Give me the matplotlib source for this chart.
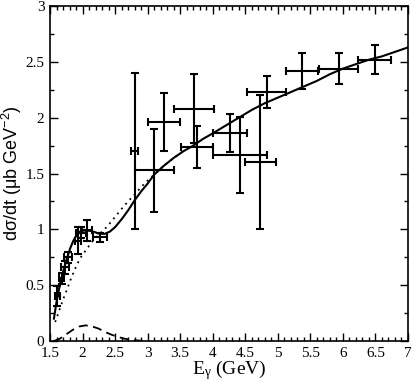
import matplotlib.pyplot as plt
import numpy as np
from matplotlib.ticker import MultipleLocator

# data points: E_gamma, dsigma/dt, errors
e_pts = [1.61, 1.68, 1.73, 1.78, 1.93, 1.98, 2.07, 2.27,
         2.80, 3.10, 3.25, 3.71, 3.76, 4.26, 4.42, 4.73, 4.83,
         5.37, 5.94, 6.49]
ds_pts = [0.40, 0.56, 0.66, 0.75, 0.90, 0.97, 0.99, 0.93,
          1.70, 1.53, 1.96, 2.08, 1.74, 1.86, 1.67, 1.60, 2.23,
          2.42, 2.44, 2.52]
xerr = [0.04, 0.04, 0.06, 0.06, 0.05, 0.08, 0.08, 0.11,
        0.05, 0.30, 0.25, 0.31, 0.25, 0.26, 0.41, 0.24, 0.30,
        0.25, 0.30, 0.25]
yerr = [0.09, 0.05, 0.06, 0.05, 0.12, 0.05, 0.09, 0.04,
        0.70, 0.37, 0.26, 0.31, 0.19, 0.17, 0.34, 0.60, 0.14,
        0.16, 0.14, 0.13]

# full model (solid)
e_full = [1.56, 1.60, 1.65, 1.70, 1.76, 1.81, 1.86, 1.91, 1.96, 2.02, 2.07,
          2.13, 2.19, 2.26, 2.34, 2.42, 2.50, 2.60, 2.70, 2.80, 2.90, 3.0,
          3.1, 3.25, 3.4, 3.55, 3.7, 3.85, 4.0, 4.2, 4.4, 4.6, 4.8, 5.0,
          5.2, 5.4, 5.6, 5.8, 6.0, 6.2, 6.4, 6.6, 6.8, 7.0]
ds_full = [0.20, 0.35, 0.50, 0.62, 0.74, 0.83, 0.90, 0.95, 0.98, 0.99, 0.99,
           0.985, 0.975, 0.96, 0.96, 0.98, 1.02, 1.09, 1.17, 1.26, 1.34, 1.41,
           1.49, 1.57, 1.64, 1.70, 1.75, 1.81, 1.86, 1.93, 2.00, 2.07, 2.13,
           2.18, 2.23, 2.28, 2.33, 2.39, 2.44, 2.48, 2.52, 2.55, 2.59, 2.63]

# background only (dotted)
e_bg = [1.58, 1.64, 1.70, 1.76, 1.81, 1.88, 1.96, 2.06, 2.16, 2.26, 2.37,
        2.47, 2.58, 2.70, 2.81, 2.95, 3.1, 3.25, 3.4, 3.55]
ds_bg = [0.17, 0.27, 0.37, 0.46, 0.54, 0.64, 0.74, 0.82, 0.90, 0.96, 1.02,
         1.09, 1.17, 1.25, 1.32, 1.41, 1.49, 1.57, 1.64, 1.70]

# resonance only (dashed)
e_res = [1.56, 1.65, 1.75, 1.85, 1.95, 2.05, 2.15, 2.25, 2.35, 2.45, 2.55,
         2.65, 2.75, 2.85, 2.95]
ds_res = [0.0, 0.02, 0.06, 0.10, 0.13, 0.14, 0.13, 0.11, 0.08, 0.055, 0.035,
          0.02, 0.01, 0.005, 0.0]

plt.rcParams['font.family'] = ['Liberation Serif', 'DejaVu Serif']
plt.rcParams['mathtext.default'] = 'regular'

fig = plt.figure(figsize=(4.15, 3.83), dpi=100)
ax = fig.add_axes([0.1205, 0.1097, 0.8625, 0.8743])

ax.plot(e_bg, ds_bg, color='black', linestyle=(0, (1, 2.5)), lw=1.3)
ax.plot(e_full, ds_full, color='black', lw=1.5)
ax.plot(e_res, ds_res, color='black', linestyle=(0, (5, 3)), lw=1.3)
ax.errorbar(e_pts, ds_pts, xerr=xerr, yerr=yerr, fmt='none', ecolor='black',
            elinewidth=1.5, capsize=3, capthick=1.5)

ax.set_xlim(1.5, 7)
ax.set_ylim(0, 3)
ax.xaxis.set_minor_locator(MultipleLocator(0.1))
ax.yaxis.set_minor_locator(MultipleLocator(0.25))
ax.set_xticks(np.arange(1.5, 7.01, 0.5))
ax.set_xticklabels(['1.5', '2', '2.5', '3', '3.5', '4', '4.5', '5', '5.5', '6', '6.5', '7'])
ax.set_yticks(np.arange(0, 3.01, 0.5))
ax.set_yticklabels(['0', '0.5', '1', '1.5', '2', '2.5', '3'])
ax.tick_params(which='both', direction='in', top=True, right=True, labelsize=11)
ax.tick_params(axis='x', pad=4)
ax.tick_params(axis='y', pad=4)
ax.tick_params(which='major', length=6, width=1)
ax.tick_params(which='minor', length=3, width=1)
for s in ax.spines.values():
    s.set_linewidth(1.2)

ax.set_xlabel(r'E$_{\gamma}$ (GeV)', fontsize=14, labelpad=-1)
ax.set_ylabel('dσ/dt (μb GeV$^{-2}$)', fontsize=13,
              family=['Liberation Sans', 'DejaVu Sans'], labelpad=1)

fig.savefig('out.png', dpi=100)
